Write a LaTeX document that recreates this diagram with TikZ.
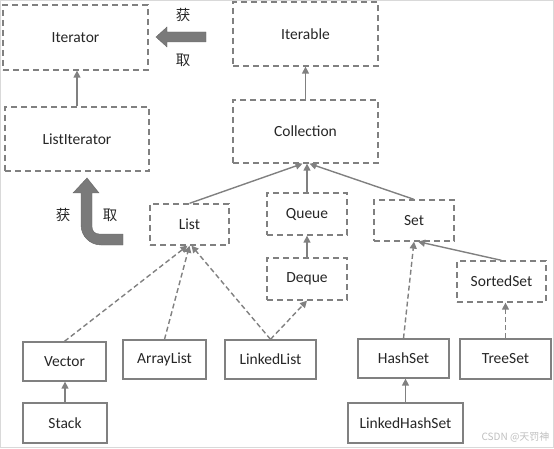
\documentclass[tikz,border=0pt]{standalone}
\usepackage{fontspec}
\setmainfont{Carlito}
\newfontfamily\cjkfont{Noto Sans CJK SC}
\usetikzlibrary{arrows.meta}
\begin{document}
\begin{tikzpicture}
% Java collection hierarchy, pixel grid of the picture
\def\pxsz{1pt}
\providecommand{\hierBoxColor}{black!50}
\providecommand{\hierLineColor}{black!50}
\providecommand{\hierFatColor}{black!52}
\providecommand{\hierTextColor}{black!85}
\providecommand{\hierBoxLineWidth}{1.3pt}
\tikzset{
  ifacebox/.style={draw=\hierBoxColor, line width=\hierBoxLineWidth, dash pattern=on 6pt off 4pt,
    inner sep=0pt, text=\hierTextColor, font=\fontsize{15.5}{18}\selectfont},
  classbox/.style={draw=\hierBoxColor, line width=\hierBoxLineWidth,
    inner sep=0pt, text=\hierTextColor, font=\fontsize{15.5}{18}\selectfont},
  extendline/.style={draw=\hierLineColor, line width=1.4pt, -{Triangle[width=7pt,length=7pt]}},
  implline/.style={extendline, dash pattern=on 5pt off 3pt},
  fatarrow/.style={fill=\hierFatColor, draw=black!60, line width=0.4pt},
  getlabel/.style={text=\hierTextColor, font=\cjkfont\fontsize{14.5}{16}\selectfont}
}
\begin{scope}[x=\pxsz, y=-\pxsz, line cap=butt, line join=miter]
  % Picture frame
  \useasboundingbox (0,0) rectangle (554,449);
  \draw[black!15, line width=1pt] (0.5,0.5) rectangle (553.5,447.5);
  % Interfaces (dashed boxes)
  \node[ifacebox, minimum width=145pt, minimum height=65pt] (iterator) at (75.5,37.5) {Iterator};
  \node[ifacebox, minimum width=145pt, minimum height=64pt] (iterable) at (305.5,34) {Iterable};
  \node[ifacebox, minimum width=145pt, minimum height=63pt] (collection) at (305.5,131.5) {Collection};
  \node[ifacebox, minimum width=144pt, minimum height=64pt] (listiterator) at (77,139) {ListIterator};
  \node[ifacebox, minimum width=79pt, minimum height=41pt] (list) at (189.5,224.5) {List};
  \node[ifacebox, minimum width=80pt, minimum height=42pt] (queue) at (307,214) {Queue};
  \node[ifacebox, minimum width=80pt, minimum height=41pt] (set) at (414,220.5) {Set};
  \node[ifacebox, minimum width=80pt, minimum height=42pt] (deque) at (307,279) {Deque};
  \node[ifacebox, minimum width=89pt, minimum height=41pt] (sortedset) at (501.5,281.5) {SortedSet};
  % Classes (solid boxes)
  \node[classbox, minimum width=83pt, minimum height=39pt] (vector) at (64.5,361.5) {Vector};
  \node[classbox, minimum width=83pt, minimum height=39pt] (arraylist) at (164.5,359.5) {ArrayList};
  \node[classbox, minimum width=91pt, minimum height=39pt] (linkedlist) at (270.5,359.5) {LinkedList};
  \node[classbox, minimum width=91pt, minimum height=39pt] (hashset) at (403.5,358.5) {HashSet};
  \node[classbox, minimum width=91pt, minimum height=40pt] (treeset) at (505.5,359) {TreeSet};
  \node[classbox, minimum width=84pt, minimum height=40pt] (stack) at (65,423) {Stack};
  \node[classbox, minimum width=115pt, minimum height=40pt] (linkedhashset) at (405.5,423) {LinkedHashSet};
  % Inheritance lines
  \draw[extendline] (listiterator.north) -- (listiterator.north |- iterator.south);
  \draw[extendline] (collection.north) -- (iterable.south);
  \draw[extendline] (list.north) -- ([xshift=-3pt]collection.south);
  \draw[extendline] (queue.north) -- (queue.north |- collection.south);
  \draw[extendline] (set.north) -- ([xshift=4pt]collection.south);
  \draw[extendline] (deque.north) -- (queue.south);
  \draw[extendline] (sortedset.north) -- ([xshift=4pt]set.south);
  \draw[extendline] (stack.north) -- (stack.north |- vector.south);
  \draw[extendline] (linkedhashset.north) -- (linkedhashset.north |- hashset.south);
  % Implementation lines
  \draw[implline] (vector.north) -- ([xshift=-2pt]list.south);
  \draw[implline] (arraylist.north) -- (list.south);
  \draw[implline] (linkedlist.north) -- ([xshift=2pt]list.south);
  \draw[implline] (linkedlist.north) -- (deque.south);
  \draw[implline] (hashset.north) -- (set.south);
  \draw[implline] (treeset.north) -- (treeset.north |- sortedset.south);
  % Fat arrows with labels
  \path[fatarrow] (206,32) -- (167,32) -- (167,27) -- (156,37) -- (167,47) -- (167,42) -- (206,42) -- cycle;
  \node[getlabel] (gettop) at (183,15) {获};
  \node[getlabel] (getbottom) at (183,60) {取};
  \path[fatarrow] (87,178) -- (99,193) -- (92,193) -- (92,227) .. controls (92,231) and (95,234) .. (99,234)
    -- (123,234) -- (123,245) -- (101,245) .. controls (90,245) and (81,236) .. (81,225) -- (81,193) -- (73,193) -- cycle;
  \node[getlabel] (getleft) at (63,215) {获};
  \node[getlabel] (getright) at (110,215) {取};
  % Watermark
  \node[anchor=east, text=black!25, font=\cjkfont\fontsize{10}{12}\selectfont] (mark) at (553,437) {CSDN @天罚神};
\end{scope}
\end{tikzpicture}
\end{document}
